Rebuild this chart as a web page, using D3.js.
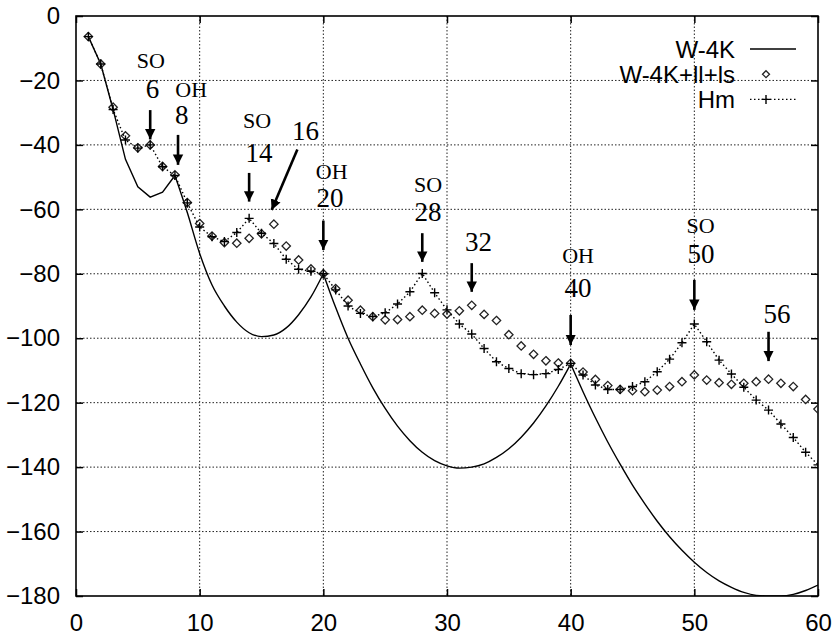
<!DOCTYPE html>
<html lang="en">
<head>
    <meta charset="UTF-8">
    <title>W-4K / Hm</title>
    <script src="https://d3js.org/d3.v7.min.js"></script>
    <style>
        body{
            margin:0;
            background:#fff;
        }
        svg{
            display:block;
        }
        .tick text{
            font-family:"Liberation Sans",Arial,Helvetica,sans-serif;
            font-size:24px;
            fill:#000;
        }
        .note{
            font-family:"Liberation Serif","Times New Roman",serif;
            fill:#000;
        }
    </style>
</head>
<body>
    <div id="chart"></div>
    <script>
        // x = 1..60
        const xs = d3.range(1,61);
        const w4k = [-6.4,-14.9,-29,-44.5,-53,-56.2,-54.7,-49.5,-61,-73.7,
            -83.5,-90,-95,-98.3,-99.5,-99,-96.8,-92.7,-87.2,-80,
            -90.5,-100,-108,-115.4,-121.8,-127.3,-131.8,-135.4,-138,-139.6,
            -140.3,-140,-139,-137,-134.3,-130.7,-126.3,-121,-114.9,-108,
            -116.6,-124.7,-132.2,-139.1,-145.6,-151.4,-156.8,-161.6,-165.8,-169.5,
            -172.7,-175.3,-177.3,-178.9,-179.8,-180,-180,-179.5,-178.3,-176.6];
        const w4kBreaks = [8,20,40];
        const llls = [-6.4,-14.9,-28.3,-37.2,-40.9,-40,-46.7,-49.3,-57.9,-64.4,
            -68.3,-70.3,-70.5,-69,-67.6,-64.6,-71.4,-75.7,-78.5,-80,
            -84.6,-88.2,-91.3,-93.3,-94.3,-94.2,-93.3,-91.3,-92.3,-92.5,
            -91.5,-89.8,-92.6,-94.5,-98.9,-102.4,-105,-107,-107.7,-107.8,
            -110.5,-112.8,-114.7,-115.9,-116.3,-116.6,-116.1,-115,-113.5,-111.4,
            -113,-113.8,-114.3,-114,-113.5,-112.7,-114,-115,-119,-122];
        const hm = [-6.4,-14.9,-29,-38.5,-41,-40,-46.8,-49.5,-58,-65.5,
            -68.5,-70,-67.2,-62.8,-67.4,-70.6,-75.5,-78.6,-79.2,-80,
            -85,-90,-92.3,-93.3,-92.1,-89.4,-85.6,-79.9,-85.9,-91.2,
            -95.6,-98.7,-103.2,-107.3,-109.4,-111,-111.3,-111,-109.7,-107.8,
            -111.4,-114.5,-115.9,-115.9,-115,-113.5,-110.4,-106.5,-101.4,-95.6,
            -101.1,-106.8,-111.1,-115.2,-119.2,-122.3,-126.6,-130.8,-135.4,-139.3];

        const xTicks = [0,10,20,30,40,50,60];
        const yTicks = [0,-20,-40,-60,-80,-100,-120,-140,-160,-180];
        const legendNames = ['W-4K','W-4K+ll+ls','Hm'];

        // arrows: x, tail, tip (data units); labels: number and tag anchor (data units)
        const notes = [
            {x:6,    tail:-29.2, tip:-38.3, num:'6',  nx:6.19,  ny:-25.5, tag:'SO', tx:6.05,  ty:-16.2},
            {x:8.25, tail:-36.9, tip:-46.2, num:'8',  nx:8.55,  ny:-33.5, tag:'OH', tx:9.32,  ty:-25.2},
            {x:14,   tail:-48.7, tip:-57.6, num:'14', nx:14.8,  ny:-45.2, tag:'SO', tx:14.64, ty:-34.9},
            {x:17.9, tail:-41.4, tip:-60.2, tipX:15.82, num:'16', nx:18.56, ny:-38.5, tag:''},
            {x:20,   tail:-63.5, tip:-72.6, num:'20', nx:20.54, ny:-59.4, tag:'OH', tx:20.68, ty:-50.6},
            {x:28,   tail:-67.4, tip:-76.3, num:'28', nx:28.46, ny:-63.5, tag:'SO', tx:28.46, ty:-54.5},
            {x:32,   tail:-76.7, tip:-85.6, num:'32', nx:32.55, ny:-72.8, tag:''},
            {x:40,   tail:-92.8, tip:-102.1,num:'40', nx:40.6,  ny:-87.1, tag:'OH', tx:40.6,  ty:-76.6},
            {x:50,   tail:-81.9, tip:-91.2, num:'50', nx:50.54, ny:-76.6, tag:'SO', tx:50.5,  ty:-67.4},
            {x:56,   tail:-98,   tip:-107.1,num:'56', nx:56.68, ny:-95.4, tag:''}
        ];

        const width = 833, height = 637;
        const margin = {left:76, right:15, top:16, bottom:41};

        const svg = d3.select('#chart').append('svg')
            .attr('width',width)
            .attr('height',height);

        const x = d3.scaleLinear().domain([0,60]).range([margin.left,width-margin.right]);
        const y = d3.scaleLinear().domain([-180,0]).range([height-margin.bottom,margin.top]);

        svg.append('clipPath').attr('id','plot')
            .append('rect')
            .attr('x',x(0)).attr('y',y(0))
            .attr('width',x(60)-x(0)).attr('height',y(-180)-y(0));

        // grid
        const grid = svg.append('g')
            .attr('stroke','#222')
            .attr('stroke-width',1)
            .attr('stroke-dasharray','1.5,2');
        grid.selectAll('.gx')
            .data(xTicks.slice(1,-1))
            .join('line')
            .attr('class','gx')
            .attr('x1',d=>x(d)).attr('x2',d=>x(d))
            .attr('y1',y(0)).attr('y2',y(-180));
        grid.selectAll('.gy')
            .data(yTicks.slice(1,-1))
            .join('line')
            .attr('class','gy')
            .attr('x1',x(0)).attr('x2',x(60))
            .attr('y1',d=>y(d)).attr('y2',d=>y(d));

        // axes, ticks inward on all four sides
        const tick = 7;
        const axB = svg.append('g')
            .attr('transform',`translate(0,${y(-180)})`)
            .call(d3.axisBottom(x).tickValues(xTicks).tickSizeInner(-tick).tickSizeOuter(0).tickPadding(17.5));
        const axL = svg.append('g')
            .attr('transform',`translate(${x(0)},0)`)
            .call(d3.axisLeft(y).tickValues(yTicks).tickSizeInner(-tick).tickSizeOuter(0).tickPadding(16));
        const axT = svg.append('g')
            .attr('transform',`translate(0,${y(0)})`)
            .call(d3.axisTop(x).tickValues(xTicks).tickSizeInner(-tick).tickSizeOuter(0).tickFormat(''));
        const axR = svg.append('g')
            .attr('transform',`translate(${x(60)},0)`)
            .call(d3.axisRight(y).tickValues(yTicks).tickSizeInner(-tick).tickSizeOuter(0).tickFormat(''));
        [axB,axL,axT,axR].forEach(a=>{
            a.select('.domain').remove();
            a.selectAll('.tick line').attr('stroke','#000').attr('stroke-width',1.5);
        });

        svg.append('rect')
            .attr('x',x(0)).attr('y',y(0))
            .attr('width',x(60)-x(0)).attr('height',y(-180)-y(0))
            .attr('fill','none')
            .attr('stroke','#000')
            .attr('stroke-width',1.6);

        const plot = svg.append('g').attr('clip-path','url(#plot)');

        // W-4K: smooth arcs between the cusps
        const line = d3.line().x(d=>x(d[0])).y(d=>y(d[1]));
        const w4kPts = xs.map((d,i)=>[d,w4k[i]]);
        const cuts = [1,...w4kBreaks,60];
        d3.pairs(cuts).forEach(([a,b],i)=>{
            const seg = w4kPts.filter(p=>p[0]>=a && p[0]<=b);
            plot.append('path')
                .attr('d',line.curve(i==0?d3.curveLinear:d3.curveMonotoneX)(seg))
                .attr('fill','none')
                .attr('stroke','#000')
                .attr('stroke-width',1.4);
        });

        // W-4K+ll+ls: diamonds
        const diamond = (cx,cy,r)=>`M${cx},${cy-r}L${cx+r},${cy}L${cx},${cy+r}L${cx-r},${cy}Z`;
        plot.selectAll('.dia')
            .data(xs.map((d,i)=>[d,llls[i]]))
            .join('path')
            .attr('class','dia')
            .attr('d',d=>diamond(x(d[0]),y(d[1]),4.2))
            .attr('fill','none')
            .attr('stroke','#222')
            .attr('stroke-width',1.3);

        // Hm: dotted line with plus marks
        const plus = (cx,cy,r)=>`M${cx-r},${cy}H${cx+r}M${cx},${cy-r}V${cy+r}`;
        plot.append('path')
            .attr('d',line.curve(d3.curveLinear)(xs.map((d,i)=>[d,hm[i]])))
            .attr('fill','none')
            .attr('stroke','#000')
            .attr('stroke-width',1.4)
            .attr('stroke-dasharray','1.5,2.5');
        plot.selectAll('.plus')
            .data(xs.map((d,i)=>[d,hm[i]]))
            .join('path')
            .attr('class','plus')
            .attr('d',d=>plus(x(d[0]),y(d[1]),4.5))
            .attr('stroke','#000')
            .attr('stroke-width',1.4);

        // legend
        const leg = svg.append('g')
            .attr('font-family','"Liberation Sans",Arial,Helvetica,sans-serif')
            .attr('font-size','24px');
        legendNames.forEach((name,i)=>{
            const ly = 49+i*25.2;
            leg.append('text')
                .attr('x',735).attr('y',ly+8.5)
                .attr('text-anchor','end')
                .text(name);
            if(i==0){
                leg.append('line').attr('x1',750).attr('x2',796).attr('y1',ly).attr('y2',ly)
                    .attr('stroke','#000').attr('stroke-width',1.4);
            }else if(i==1){
                leg.append('path').attr('d',diamond(766,ly,3.5))
                    .attr('fill','none').attr('stroke','#222').attr('stroke-width',1.3);
            }else{
                leg.append('line').attr('x1',750).attr('x2',796).attr('y1',ly).attr('y2',ly)
                    .attr('stroke','#000').attr('stroke-width',1.4).attr('stroke-dasharray','1.5,2.5');
                leg.append('path').attr('d',plus(766,ly,4.5))
                    .attr('stroke','#000').attr('stroke-width',1.4);
            }
        });

        // annotations
        svg.append('defs').append('marker')
            .attr('id','head')
            .attr('viewBox','0 0 10 10')
            .attr('refX',10).attr('refY',5)
            .attr('markerWidth',4).attr('markerHeight',4.5)
            .attr('markerUnits','strokeWidth')
            .attr('orient','auto')
            .append('path')
            .attr('d','M0,0L10,5L0,10Z')
            .attr('fill','#000');

        const ann = svg.append('g');
        notes.forEach(n=>{
            ann.append('line')
                .attr('x1',x(n.x)).attr('y1',y(n.tail))
                .attr('x2',x(n.tipX===undefined?n.x:n.tipX)).attr('y2',y(n.tip))
                .attr('stroke','#000')
                .attr('stroke-width',2.6)
                .attr('marker-end','url(#head)');
            ann.append('text')
                .attr('class','note')
                .attr('x',x(n.nx)).attr('y',y(n.ny))
                .attr('text-anchor','middle')
                .attr('font-size','27px')
                .text(n.num);
            if(n.tag){
                ann.append('text')
                    .attr('class','note')
                    .attr('x',x(n.tx)).attr('y',y(n.ty))
                    .attr('text-anchor','middle')
                    .attr('font-size','22px')
                    .text(n.tag);
            }
        });
    </script>
</body>
</html>
